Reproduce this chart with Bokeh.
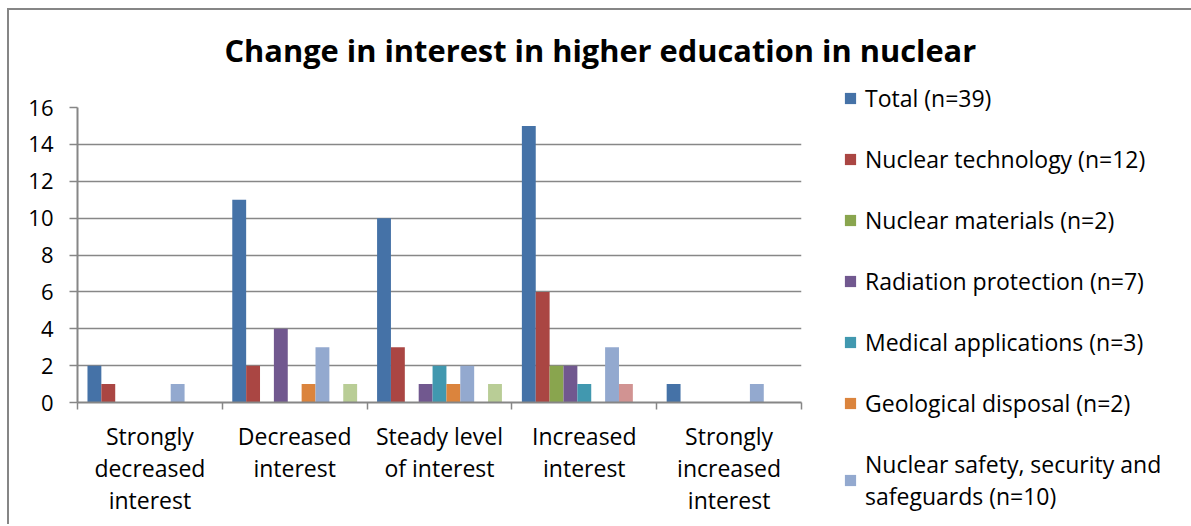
import numpy as np
from bokeh.plotting import figure
from bokeh.models import (Range1d, FixedTicker, Legend, LegendItem, Title,
                          ColumnDataSource)
from bokeh.transform import dodge
from bokeh.embed import file_html
from bokeh.resources import INLINE

# ---------------- data ----------------
categories = ["Strongly\ndecreased\ninterest", "Decreased\ninterest",
              "Steady level\nof interest", "Increased\ninterest",
              "Strongly\nincreased\ninterest"]
total = [2, 11, 10, 15, 1]
nuclear_technology = [1, 2, 3, 6, 0]
nuclear_materials = [0, 0, 0, 2, 0]
radiation_protection = [0, 4, 1, 2, 0]
medical_applications = [0, 0, 2, 1, 0]
geological_disposal = [0, 1, 1, 0, 0]
nuclear_safety = [1, 3, 2, 3, 1]
series_8 = [0, 0, 0, 1, 0]   # legend entry not visible in the source
series_9 = [0, 1, 1, 0, 0]   # legend entry not visible in the source
series_names = ["Total (n=39)", "Nuclear technology (n=12)",
                "Nuclear materials (n=2)", "Radiation protection (n=7)",
                "Medical applications (n=3)", "Geological disposal (n=2)",
                "Nuclear safety, security and\nsafeguards (n=10)",
                "series 8", "series 9"]
series_values = [total, nuclear_technology, nuclear_materials,
                 radiation_protection, medical_applications,
                 geological_disposal, nuclear_safety, series_8, series_9]
colors = ["#4572A7", "#AA4643", "#89A54E", "#71588F", "#4198AF",
          "#DB843D", "#93A9CF", "#D19392", "#B9CD96"]
y_ticks = [0, 2, 4, 6, 8, 10, 12, 14, 16]
title_text = "Change in interest in higher education in nuclear"

# ---------------- figure ----------------
p = figure(frame_width=724, frame_height=295,
           output_backend="svg", toolbar_location=None,
           x_range=Range1d(0, len(categories)), y_range=Range1d(0, 16),
           min_border_left=68, min_border_right=0,
           min_border_top=97, min_border_bottom=124)
p.margin = (10, 0, 0, 9)
p.styles = {"box-shadow": "-2px -2px 0 0 #868686"}
p.outline_line_color = None
p.background_fill_color = "white"
p.border_fill_color = "white"

xc = [i + 0.5 for i in range(len(categories))]
src = ColumnDataSource(dict(xc=xc, **{f"s{j}": v for j, v in enumerate(series_values)}))

n = len(series_values)
slot = 0.0958
renderers = []
for j in range(n):
    off = (j - (n - 1) / 2) * slot
    r = p.vbar(x=dodge("xc", off, range=p.x_range), top=f"s{j}", width=slot,
               source=src, fill_color=colors[j], line_color=None)
    renderers.append(r)

# grid
p.xgrid.grid_line_color = None
p.ygrid.ticker = FixedTicker(ticks=y_ticks)
p.ygrid.grid_line_color = "#878787"
p.ygrid.grid_line_width = 1.6

# y axis
ya = p.yaxis[0]
ya.ticker = FixedTicker(ticks=y_ticks)
ya.axis_line_color = "#868686"
ya.axis_line_width = 2
ya.major_tick_line_color = "#868686"
ya.major_tick_line_width = 1.5
ya.major_tick_out = 8
ya.major_tick_in = 0
ya.minor_tick_line_color = None
ya.major_label_standoff = 16
ya.major_label_text_font = "Open Sans"
ya.major_label_text_font_size = "22px"
ya.major_label_text_color = "black"

# x axis: labels at centres, ticks at boundaries
xa = p.xaxis[0]
xa.ticker = FixedTicker(ticks=xc, minor_ticks=list(range(len(categories) + 1)))
xa.major_label_overrides = {x: c for x, c in zip(xc, categories)}
xa.axis_line_color = "#868686"
xa.axis_line_width = 2
xa.major_tick_out = 0
xa.major_tick_in = 0
xa.major_tick_line_color = None
xa.minor_tick_out = 7
xa.minor_tick_in = 0
xa.minor_tick_line_color = "#868686"
xa.minor_tick_line_width = 1.5
xa.major_label_standoff = 10
xa.major_label_text_font = "Open Sans"
xa.major_label_text_font_size = "23px"
xa.major_label_text_line_height = 1.0
xa.major_label_text_color = "black"

# legend (right side panel)
items = [LegendItem(label=series_names[j], renderers=[renderers[j]]) for j in range(7)]
leg = Legend(items=items, location=(42, -110), orientation="vertical",
             label_text_font="Open Sans", label_text_font_size="23px",
             label_text_line_height=1.0, label_text_color="black",
             glyph_width=14, glyph_height=14, label_height=28, spacing=29,
             label_standoff=8, padding=0, margin=0,
             border_line_color=None, background_fill_alpha=0)
p.add_layout(leg, "right")

# title: spacer (closest to frame) then the real title
p.add_layout(Title(text=" ", text_font_size="1px", standoff=34), "above")
p.add_layout(Title(text=title_text, align="left", offset=147,
                   vertical_align="bottom", standoff=0,
                   text_font="Open Sans", text_font_style="bold",
                   text_font_size="30.8px", text_color="black"), "above")

open("out.html", "w").write(file_html(p, INLINE))
